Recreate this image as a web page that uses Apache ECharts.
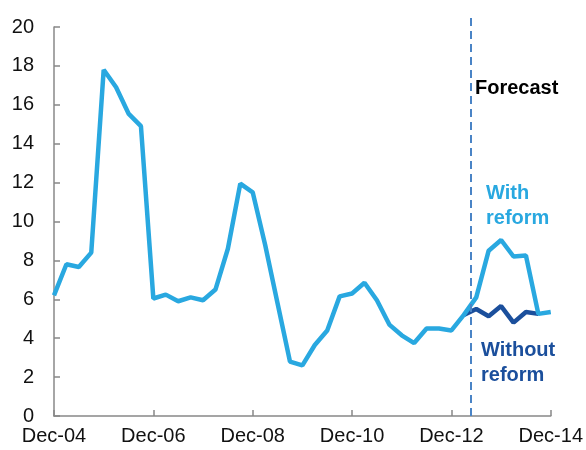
<!DOCTYPE html>
<html>
<head>
<meta charset="utf-8">
<script src="https://cdn.jsdelivr.net/npm/echarts@6/dist/echarts.min.js"></script>
<style>
  html, body { margin: 0; padding: 0; background: #fff; }
  #chart { width: 586px; height: 450px; }
</style>
</head>
<body>
<div id="chart"></div>
<script>
// quarterly, Dec-04 = 0 ... Dec-14 = 40
var tickLabels = ['Dec-04', 'Dec-06', 'Dec-08', 'Dec-10', 'Dec-12', 'Dec-14'];
var withReform = [
  6.2, 7.8, 7.66, 8.4, 17.8, 16.9, 15.55, 14.9,
  6.04, 6.24, 5.9, 6.1, 5.95, 6.5, 8.6, 11.95,
  11.5, 8.8, 5.8, 2.8, 2.6, 3.65, 4.4, 6.15,
  6.3, 6.85, 5.95, 4.7, 4.15, 3.75, 4.5, 4.5,
  4.4, 5.2, 6.1, 8.5, 9.05, 8.2, 8.25, 5.25,
  5.35
];
var withoutStart = 33;
var withoutReform = [5.2, 5.5, 5.13, 5.65, 4.8, 5.35, 5.25];
var forecastAt = 33.45;

var lightBlue = '#29a8e0';
var darkBlue = '#1b4f9c';

var myChart = echarts.init(document.getElementById('chart'));
myChart.setOption({
  animation: false,
  grid: [
    { left: 54, right: 34, top: 27, bottom: 34 },
    // taller grid, only for the forecast marker line
    { left: 54, right: 34, top: 15, bottom: 34 }
  ],
  xAxis: [{
    type: 'value',
    min: 0, max: 40, interval: 8,
    axisLine: { lineStyle: { color: '#888', width: 1.5 } },
    axisTick: { inside: true, length: 6, lineStyle: { color: '#888', width: 1.5 } },
    axisLabel: {
      color: '#111', fontSize: 20, fontFamily: 'Liberation Sans', margin: 10,
      formatter: function (v) { return tickLabels[v / 8]; }
    },
    splitLine: { show: false }
  }, {
    type: 'value', gridIndex: 1, min: 0, max: 40, show: false
  }],
  yAxis: [{
    type: 'value',
    min: 0, max: 20, interval: 2,
    axisLine: { show: true, lineStyle: { color: '#888', width: 1.5 } },
    axisTick: { show: true, inside: true, length: 6, lineStyle: { color: '#888', width: 1.5 } },
    axisLabel: { color: '#111', fontSize: 20, fontFamily: 'Liberation Sans', margin: 20 },
    splitLine: { show: false }
  }, {
    type: 'value', gridIndex: 1, min: 0, max: 1, show: false
  }],
  series: [
    {
      name: 'forecast',
      type: 'line',
      xAxisIndex: 1, yAxisIndex: 1,
      symbol: 'none',
      lineStyle: { opacity: 0 },
      data: [[forecastAt, 0]],
      markLine: {
        silent: true,
        symbol: 'none',
        label: { show: false },
        lineStyle: { color: '#4a84c6', type: [8, 5], width: 2 },
        data: [{ xAxis: forecastAt }]
      },
      z: 1
    },
    {
      name: 'Without reform',
      type: 'line',
      symbol: 'none',
      lineStyle: { color: darkBlue, width: 4.5 },
      data: withoutReform.map(function (v, i) { return [withoutStart + i, v]; }),
      z: 2
    },
    {
      name: 'With reform',
      type: 'line',
      symbol: 'none',
      lineStyle: { color: lightBlue, width: 4.5 },
      data: withReform.map(function (v, i) { return [i, v]; }),
      z: 3
    }
  ],
  graphic: [
    { type: 'text', left: 475, top: 78, style: { text: 'Forecast', fill: '#000', font: 'bold 20px "Liberation Sans"' } },
    { type: 'text', left: 486, top: 181, style: { text: 'With\nreform', fill: lightBlue, font: 'bold 20px "Liberation Sans"', lineHeight: 25 } },
    { type: 'text', left: 481, top: 338, style: { text: 'Without\nreform', fill: darkBlue, font: 'bold 20px "Liberation Sans"', lineHeight: 25 } }
  ]
});
</script>
</body>
</html>
